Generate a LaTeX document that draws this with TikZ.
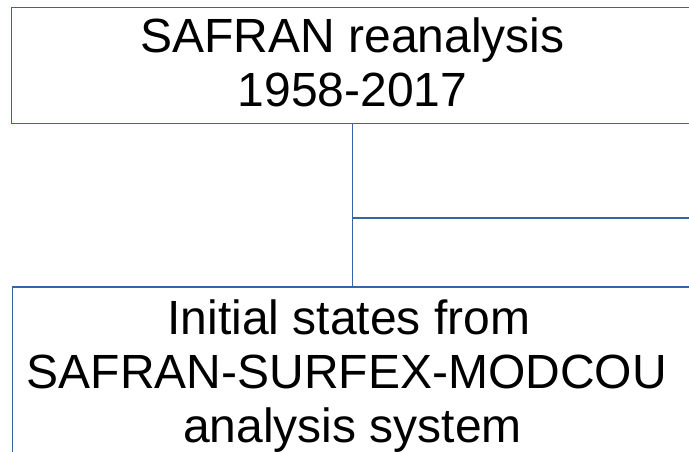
\documentclass[tikz,border=0pt]{standalone}
\usepackage{fontspec}
\setmainfont{Liberation Sans}
\definecolor{boxline}{HTML}{3465A4}
\begin{document}
\begin{tikzpicture}[x=1pt,y=-1pt,
  flowbox/.style={draw=boxline,line width=1.1pt,fill=white,rectangle,
    align=center,inner sep=0pt,
    font={\fontsize{48}{54}\selectfont}},
  link/.style={draw=boxline,line width=1.1pt}]
\useasboundingbox (0,0) rectangle (689,452);

% source data box
\node[flowbox,minimum width=682pt,minimum height=116pt] (reanalysis)
  at (352.5,65.5) {SAFRAN reanalysis\\1958-2017\rule[-6.6pt]{0pt}{0pt}};

% initial states box
\node[flowbox,minimum width=680pt,minimum height=179pt] (initial)
  at (352.5,376.5) {\hbox{Initial states from\kern7.4pt}\\%
    \hbox{SAFRAN-SURFEX-MODCOU\kern11.4pt}\\%
    \hbox{analysis system}};

% branch point and the branch leaving to the right
\coordinate (branch) at (reanalysis.south |- 0,218);
\coordinate (offright) at (700,218);

\draw[link] (reanalysis.south) -- (reanalysis.south |- initial.north);
\draw[link] (branch) -- (offright);
\end{tikzpicture}
\end{document}
